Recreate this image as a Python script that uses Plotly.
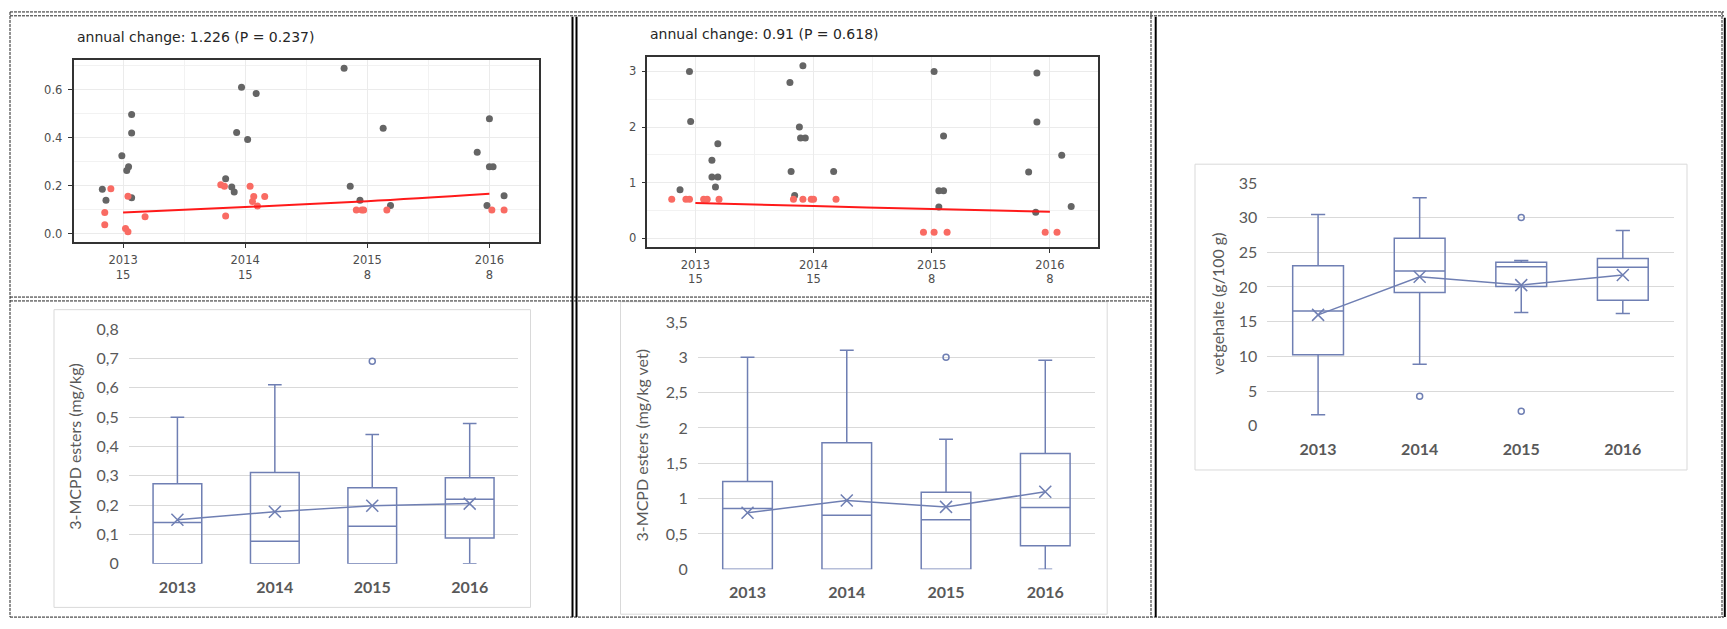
import plotly.graph_objects as go

W, H = 1727, 629

# ---------------- data ----------------
years = [2013, 2014, 2015, 2016]
year_labels = ["2013", "2014", "2015", "2016"]
n_per_year = ["15", "15", "8", "8"]

# top-left: 3-MCPD esters (mg/kg) jittered points
grey1_x = [2012.83, 2012.86, 2012.99, 2013.03, 2013.045, 2013.07, 2013.07, 2013.07,
           2013.84, 2013.89, 2013.91, 2013.93, 2013.97, 2014.02, 2014.09,
           2014.81, 2014.86, 2014.94, 2015.13, 2015.19,
           2015.90, 2016.00, 2016.00, 2016.03, 2015.98, 2016.12]
grey1_y = [0.186, 0.14, 0.326, 0.264, 0.28, 0.498, 0.42, 0.151,
           0.23, 0.195, 0.175, 0.423, 0.611, 0.393, 0.585,
           0.69, 0.199, 0.14, 0.44, 0.118,
           0.34, 0.48, 0.28, 0.28, 0.118, 0.159]
red1_x = [2012.85, 2012.85, 2012.90, 2013.04, 2013.02, 2013.04, 2013.18,
          2013.80, 2013.83, 2013.84, 2014.04, 2014.07, 2014.06, 2014.10, 2014.16,
          2014.91, 2014.955, 2014.97, 2015.16,
          2016.02, 2016.12]
red1_y = [0.038, 0.089, 0.188, 0.157, 0.023, 0.009, 0.071,
          0.205, 0.199, 0.075, 0.199, 0.156, 0.135, 0.116, 0.156,
          0.10, 0.10, 0.10, 0.10,
          0.10, 0.10]
fit1_y = [0.089, 0.112, 0.136, 0.167]
title1 = "annual change: 1.226 (P = 0.237)"

# top-middle: 3-MCPD esters (mg/kg vet) jittered points
grey2_x = [2012.87, 2012.95, 2012.96, 2013.14, 2013.19, 2013.14, 2013.19, 2013.17,
           2013.80, 2013.91, 2013.88, 2013.89, 2013.93, 2013.81, 2014.17, 2013.84,
           2015.02, 2015.10, 2015.06, 2015.10, 2015.06,
           2015.89, 2015.89, 2015.82, 2016.10, 2015.88, 2016.18]
grey2_y = [0.872, 3.0, 2.10, 1.40, 1.70, 1.10, 1.10, 0.92,
           2.80, 3.10, 2.00, 1.80, 1.80, 1.20, 1.20, 0.77,
           3.0, 1.84, 0.855, 0.855, 0.56,
           2.97, 2.09, 1.19, 1.49, 0.465, 0.57]
red2_x = [2012.80, 2012.92, 2012.95, 2013.07, 2013.10, 2013.20,
          2013.83, 2013.91, 2013.98, 2014.00, 2014.19,
          2014.93, 2015.02, 2015.13,
          2015.96, 2016.06]
red2_y = [0.70, 0.70, 0.70, 0.70, 0.70, 0.70,
          0.70, 0.70, 0.70, 0.70, 0.70,
          0.105, 0.105, 0.105,
          0.105, 0.105]
fit2_y = [0.634, 0.577, 0.525, 0.477]
title2 = "annual change: 0.91 (P = 0.618)"

# bottom-left box plot: 3-MCPD esters (mg/kg)
b1_low = [0.0, 0.0, 0.0, 0.0]
b1_q1 = [0.0, 0.0, 0.0, 0.088]
b1_med = [0.141, 0.077, 0.128, 0.22]
b1_q3 = [0.273, 0.311, 0.259, 0.293]
b1_high = [0.499, 0.61, 0.441, 0.478]
b1_mean = [0.15, 0.177, 0.198, 0.205]
b1_out_x = ["2015"]
b1_out_y = [0.69]

# bottom-middle box plot: 3-MCPD esters (mg/kg vet)
b2_low = [0.0, 0.0, 0.0, 0.0]
b2_q1 = [0.0, 0.0, 0.0, 0.334]
b2_med = [0.86, 0.764, 0.70, 0.874]
b2_q3 = [1.244, 1.79, 1.09, 1.64]
b2_high = [3.0, 3.10, 1.84, 2.96]
b2_mean = [0.80, 0.974, 0.883, 1.098]
b2_out_x = ["2015"]
b2_out_y = [3.0]

# right box plot: vetgehalte (g/100 g)
b3_low = [1.58, 8.85, 16.31, 16.17]
b3_q1 = [10.25, 19.2, 20.08, 18.08]
b3_med = [16.54, 22.32, 22.93, 22.83]
b3_q3 = [23.07, 27.03, 23.58, 24.09]
b3_high = [30.43, 32.85, 23.81, 28.15]
b3_mean = [15.98, 21.48, 20.27, 21.72]
b3_out_x = ["2014", "2015", "2015"]
b3_out_y = [4.24, 30.0, 2.1]

# ---------------- styles ----------------
GREY = "#656565"
SALMON = "#f96b63"
RED = "#ff1a1a"
BLUE = "#6f7fb3"
XL_TXT = "#595959"
XL_GRID = "#d9d9d9"
GG_TXT = "#4d4d4d"


def px(x):
    return x / W


def py(y):
    return 1 - y / H


fig = go.Figure()

# ---- top scatter panels ----
for (gx, gy, rx, ry, fy, ax) in [
    (grey1_x, grey1_y, red1_x, red1_y, fit1_y, ""),
    (grey2_x, grey2_y, red2_x, red2_y, fit2_y, "2"),
]:
    fig.add_trace(go.Scatter(x=gx, y=gy, mode="markers",
                             marker=dict(color=GREY, size=7, line=dict(width=0)),
                             xaxis="x" + ax, yaxis="y" + ax, showlegend=False,
                             hoverinfo="skip"))
    fig.add_trace(go.Scatter(x=rx, y=ry, mode="markers",
                             marker=dict(color=SALMON, size=7, line=dict(width=0)),
                             xaxis="x" + ax, yaxis="y" + ax, showlegend=False,
                             hoverinfo="skip"))
    fig.add_trace(go.Scatter(x=years, y=fy, mode="lines",
                             line=dict(color=RED, width=2, shape="spline"),
                             xaxis="x" + ax, yaxis="y" + ax, showlegend=False,
                             hoverinfo="skip"))

# ---- Excel style box plots ----
for (lo, q1, md, q3, hi, mn, ox, oy, ax) in [
    (b1_low, b1_q1, b1_med, b1_q3, b1_high, b1_mean, b1_out_x, b1_out_y, "3"),
    (b2_low, b2_q1, b2_med, b2_q3, b2_high, b2_mean, b2_out_x, b2_out_y, "4"),
    (b3_low, b3_q1, b3_med, b3_q3, b3_high, b3_mean, b3_out_x, b3_out_y, "5"),
]:
    fig.add_trace(go.Box(x=year_labels, q1=q1, median=md, q3=q3,
                         lowerfence=lo, upperfence=hi, width=0.5, whiskerwidth=0.28,
                         line=dict(color=BLUE, width=1.5),
                         fillcolor="rgba(0,0,0,0)", boxpoints=False,
                         xaxis="x" + ax, yaxis="y" + ax, showlegend=False,
                         hoverinfo="skip"))
    fig.add_trace(go.Scatter(x=year_labels, y=mn, mode="lines+markers",
                             line=dict(color=BLUE, width=1.5),
                             marker=dict(symbol="x-thin", size=12, color=BLUE,
                                         line=dict(color=BLUE, width=1.5)),
                             xaxis="x" + ax, yaxis="y" + ax, showlegend=False,
                             hoverinfo="skip"))
    fig.add_trace(go.Scatter(x=ox, y=oy, mode="markers",
                             marker=dict(symbol="circle-open", size=6, color=BLUE,
                                         line=dict(color=BLUE, width=1.5)),
                             xaxis="x" + ax, yaxis="y" + ax, showlegend=False,
                             hoverinfo="skip"))


def gg_x(x0, x1):
    return dict(domain=[px(x0), px(x1)], range=[2012.594, 2016.406],
                tickmode="array", tickvals=years,
                ticktext=[f"{a}<br>{b}" for a, b in zip(year_labels, n_per_year)],
                showgrid=True, gridcolor="#ebebeb", gridwidth=1.2,
                minor=dict(tickmode="array", tickvals=[2013.5, 2014.5, 2015.5],
                           showgrid=True, gridcolor="#f2f2f2", gridwidth=0.7, ticks=""),
                zeroline=False, showline=True, mirror=True,
                linecolor="#333333", linewidth=1.6,
                ticks="outside", ticklen=4, tickcolor="#333333", tickwidth=1,
                ticklabelstandoff=2,
                tickfont=dict(family="DejaVu Sans", size=11.5, color=GG_TXT))


def gg_y(y0, y1, rng, tv, tt, minor_v):
    return dict(domain=[py(y1), py(y0)], range=rng,
                tickmode="array", tickvals=tv, ticktext=tt,
                showgrid=True, gridcolor="#ebebeb", gridwidth=1.2,
                minor=dict(tickmode="array", tickvals=minor_v,
                           showgrid=True, gridcolor="#f2f2f2", gridwidth=0.7, ticks=""),
                zeroline=False, showline=True, mirror=True,
                linecolor="#333333", linewidth=1.6,
                ticks="outside", ticklen=4, tickcolor="#333333", tickwidth=1,
                ticklabelstandoff=3,
                tickfont=dict(family="DejaVu Sans", size=11.5, color=GG_TXT))


def xl_x(x0, x1):
    return dict(domain=[px(x0), px(x1)], type="category",
                categoryorder="array", categoryarray=year_labels,
                range=[-0.5, 3.5], showgrid=False, zeroline=False, showline=False,
                ticks="", ticklabelstandoff=12,
                tickfont=dict(family="Lato", size=16, color=XL_TXT, weight="bold"))


def xl_y(y0, y1, rng, tv, tt):
    return dict(domain=[py(y1), py(y0)], range=rng,
                tickmode="array", tickvals=tv, ticktext=tt,
                showgrid=True, gridcolor=XL_GRID, gridwidth=1,
                zeroline=False, showline=False, ticks="", ticklabelstandoff=9,
                tickfont=dict(family="Lato", size=16, color=XL_TXT))


b1_ticks = [0, 0.1, 0.2, 0.3, 0.4, 0.5, 0.6, 0.7, 0.8]
b1_text = ["0", "0,1", "0,2", "0,3", "0,4", "0,5", "0,6", "0,7", "0,8"]
b2_ticks = [0, 0.5, 1, 1.5, 2, 2.5, 3, 3.5]
b2_text = ["0", "0,5", "1", "1,5", "2", "2,5", "3", "3,5"]
b3_ticks = [0, 5, 10, 15, 20, 25, 30, 35]
b3_text = ["0", "5", "10", "15", "20", "25", "30", "35"]

fig.update_layout(
    width=W, height=H, margin=dict(l=0, r=0, t=0, b=0),
    paper_bgcolor="white", plot_bgcolor="white",
    xaxis=gg_x(73.5, 539),
    yaxis=gg_y(51.7, 239.3, [-0.034, 0.724], [0, 0.2, 0.4, 0.6],
               ["0.0", "0.2", "0.4", "0.6"], [0.1, 0.3, 0.5, 0.7]),
    xaxis2=gg_x(647.4, 1097.9),
    yaxis2=gg_y(48.3, 244.3, [-0.157, 3.262], [0, 1, 2, 3],
                ["0", "1", "2", "3"], [0.5, 1.5, 2.5]),
    xaxis3=xl_x(128.7, 518.4),
    yaxis3=xl_y(329, 571, [0, 0.8], b1_ticks, b1_text),
    xaxis4=xl_x(697.9, 1094.9),
    yaxis4=xl_y(321.7, 576.7, [0, 3.5], b2_ticks, b2_text),
    xaxis5=xl_x(1267.3, 1673.6),
    yaxis5=xl_y(178.3, 428.7, [0, 35], b3_ticks, b3_text),
)
for i in ["", "2", "3", "4", "5"]:
    fig.layout["xaxis" + i].anchor = "y" + i
    fig.layout["yaxis" + i].anchor = "x" + i

# ---- annotations ----
ann = [
    dict(text=title1, x=px(75), y=py(28), xanchor="left", yanchor="middle",
         font=dict(family="DejaVu Sans", size=14, color="#262626")),
    dict(text=title2, x=px(647.7), y=py(25), xanchor="left", yanchor="middle",
         font=dict(family="DejaVu Sans", size=14, color="#262626")),
    dict(text="3-MCPD esters (mg/kg)", x=px(74.6), y=py(449.7), textangle=-90,
         xanchor="center", yanchor="middle",
         font=dict(family="Lato", size=16, color=XL_TXT)),
    dict(text="3-MCPD esters (mg/kg vet)", x=px(641), y=py(449), textangle=-90,
         xanchor="center", yanchor="middle",
         font=dict(family="Lato", size=16, color=XL_TXT)),
    dict(text="vetgehalte (g/100 g)", x=px(1217.5), y=py(303.3), textangle=-90,
         xanchor="center", yanchor="middle",
         font=dict(family="Lato", size=16, color=XL_TXT)),
]
for a in ann:
    a.update(xref="paper", yref="paper", showarrow=False)
fig.update_layout(annotations=ann)

# ---- table borders and chart-area frames ----
DOT = "3px,1px"
shapes = []


def hline(y, x0, x1, dash=DOT, color="#222222", w=1):
    shapes.append(dict(type="line", xref="paper", yref="paper",
                       x0=px(x0), x1=px(x1), y0=py(y), y1=py(y),
                       line=dict(color=color, width=w, dash=dash)))


def vline(x, y0, y1, dash=DOT, color="#222222", w=1):
    shapes.append(dict(type="line", xref="paper", yref="paper",
                       x0=px(x), x1=px(x), y0=py(y0), y1=py(y1),
                       line=dict(color=color, width=w, dash=dash)))


hline(2, 10, 1724)
hline(6, 10, 1724)
hline(626, 10, 1724)
hline(296, 10, 1151)
hline(300, 10, 1151)
vline(10, 2, 626)
vline(1151, 2, 626)
vline(1722, 2, 626)
vline(572.5, 7, 626, dash="solid", color="black", w=2)
vline(576.5, 7, 626, dash="solid", color="black", w=2)
vline(1155.7, 7, 626, dash="solid", color="black", w=2)
vline(1724.8, 8, 626, dash="solid", color="black", w=2)

for (x0, y0, x1, y1) in [(54, 309, 530.5, 616), (620.5, 300.8, 1107.2, 623),
                         (1195, 159, 1687, 474.3)]:
    shapes.append(dict(type="rect", xref="paper", yref="paper",
                       x0=px(x0), x1=px(x1), y0=py(y1), y1=py(y0),
                       line=dict(color=XL_GRID, width=1), layer="below"))

fig.update_layout(shapes=shapes)

fig.write_html(
    "out.html",
    config={"displayModeBar": False, "responsive": False},
    post_script=("document.documentElement.style.margin='0';"
                 "document.documentElement.style.overflow='hidden';"
                 "document.body.style.margin='0';"
                 "document.body.style.overflow='hidden';"
                 "var gd=document.getElementsByClassName('plotly-graph-div')[0];"
                 "gd.style.position='fixed';gd.style.top='0px';gd.style.left='0px';"),
)
